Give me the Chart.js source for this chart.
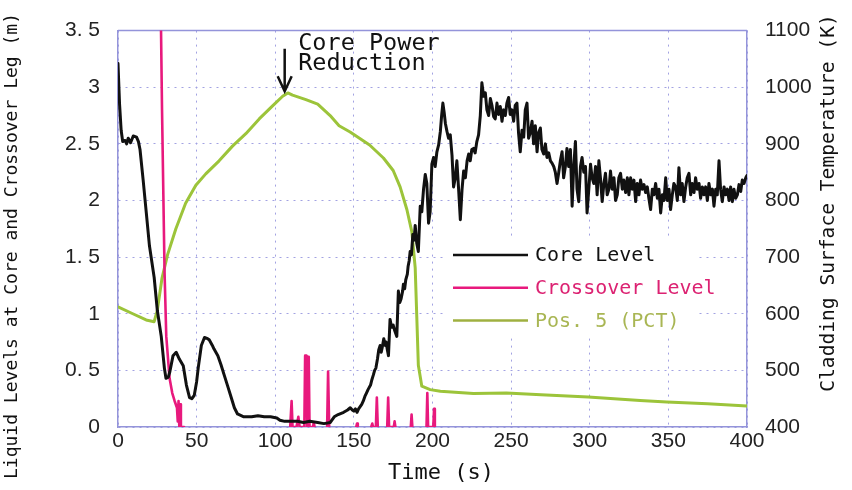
<!DOCTYPE html>
<html><head><meta charset="utf-8">
<script src="https://cdn.jsdelivr.net/npm/chart.js@4.4.1/dist/chart.umd.min.js"></script>
<style>html,body{margin:0;padding:0;background:#fff;}#wrap{width:852px;height:490px;position:relative;}</style>
</head><body><div id="wrap"><canvas id="c" width="852" height="490"></canvas></div>
<script>
// ---------- DATA ----------
const seriesNames = ['Core Level', 'Crossover Level', 'Pos. 5 (PCT)'];

const coreTime = [0,1,2,3,4.5,5.5,6.5,8,9.7,11.8,13,14,16,18,20,23,25,27.5,29.5,30.5,32,33,35,37,39,41.5,43.5,45.5,47,48.5,50,51,53,55,57,58,60,61,63.5,65.5,67.5,70,72,74,76,80,85,89,93,97,101,103,106,110,114,118,122,127,131,135,137.5,140,143.5,146,
  147.7,149,150,151,152,153,154,155,156,157,158,159,160.6,161.5,162.4,163.2,164,165,165.8,166.7,167.4,168,169,170,170.5,171.3,172,173,174,175,176,177.3,178.3,179.2,180,181,181.5,182.3,183,184,184.5,185.2,185.8,186.6,187.5,188.3,189,
  190,191,192.2,193.2,194.3,195.4,196.4,197.5,198.5,199.6,200.7,201.7,202.8,203.9,205,205.8,206.6,207.4,208.2,209.2,210.2,211.3,212.4,213.4,214.5,215.5,216.6,217.7,218.8,219.8,220.9,222,223,224,225,226.1,227.1,228.2,
  229.3,230.4,231.4,232.5,233.6,234.6,235.7,236.8,237.8,238.9,239.9,241,242,243.1,244.2,245.2,246.3,247.3,248.4,249.4,250.5,251.6,252.6,253.7,254.7,255.8,256.9,258,259,260.1,261.1,262.2,263.3,264.3,265.4,266.5,267.5,268.6,269.6,270.7,271.8,272.8,273.9,275,276,277.1,278.1,279.2,280.3,281.3,282.4,283.4,284.5,285.5,286.6,287.7,288.8,289.8,290.9,291.9,293,294.1,295.1,296.2,297.3,298.3,299.4,
  300.5,301.5,302.6,303.7,304.7,305.8,306.8,307.9,309,310,311.1,312.2,313.2,314.3,315.4,316.4,317.5,318.5,319.6,320.7,321.7,322.8,323.9,324.9,326,327,328.1,329.2,330.2,331.3,332.3,333.4,334.5,335.5,336.6,337.6,338.7,339.8,340.8,341.9,343,344,345.1,346.2,347.2,348.3,349.3,
  350.4,351.4,352.5,353.5,354.6,355.7,356.7,357.8,358.8,359.9,361,362,363.1,364.2,365.2,366.3,367.3,368.4,369.5,370.5,371.6,372.6,373.7,374.8,375.8,376.9,378,379,380.1,381.1,382.2,383.2,384.3,385.4,386.4,387.5,388.6,389.6,390.7,391.7,392.8,393.9,394.9,396,397,398.1,399.2,400];
const coreLevel = [3.21,2.85,2.62,2.52,2.53,2.5,2.55,2.51,2.57,2.56,2.52,2.45,2.18,1.89,1.6,1.32,1.03,0.8,0.52,0.43,0.44,0.49,0.63,0.66,0.6,0.54,0.37,0.26,0.25,0.28,0.4,0.52,0.72,0.79,0.78,0.77,0.72,0.69,0.63,0.55,0.46,0.35,0.26,0.17,0.115,0.09,0.09,0.1,0.09,0.09,0.08,0.06,0.05,0.05,0.05,0.04,0.05,0.04,0.03,0.04,0.09,0.11,0.13,0.15,
  0.17,0.15,0.14,0.16,0.13,0.16,0.18,0.2,0.23,0.27,0.3,0.33,0.37,0.42,0.46,0.5,0.52,0.6,0.68,0.72,0.66,0.7,0.78,0.72,0.75,0.68,0.63,0.95,0.88,0.9,0.85,0.8,1.2,1.1,1.13,1.2,1.26,1.22,1.3,1.35,1.42,1.47,1.55,1.52,1.7,1.65,1.78,
  1.62,1.55,1.95,1.9,2.1,2.23,2.15,1.8,1.9,2.32,2.38,2.3,2.43,2.49,2.61,2.75,2.86,2.78,2.68,2.61,2.55,2.58,2.4,2.12,2.2,2.35,2.1,1.83,2.1,2.26,2.2,2.35,2.41,2.35,2.45,2.46,2.42,2.52,
  2.58,2.75,3.04,2.92,2.95,2.8,2.75,2.9,2.84,2.74,2.72,2.86,2.76,2.83,2.7,2.8,2.75,2.86,2.91,2.76,2.8,2.7,2.84,2.86,2.6,2.43,2.62,2.56,2.8,2.86,2.55,2.6,2.7,2.5,2.66,2.43,2.6,2.64,2.45,2.41,2.5,2.38,2.42,2.35,2.33,2.3,2.25,2.15,2.25,2.35,2.43,2.2,2.3,2.46,2.3,2.45,1.95,2.3,2.52,2.1,1.99,2.3,2.38,2.25,2.3,1.89,2.1,
  2.32,2.2,2.15,2.3,2.05,2.35,2.2,1.99,2.15,2.24,2.05,2.1,2.26,2.1,2.2,2.0,2.05,2.2,2.24,2.1,2.18,2.07,2.2,2.05,2.2,2.1,2.18,1.99,2.15,2.05,2.18,2.1,2.14,2.07,2.12,2.02,1.92,2.1,2.05,2.15,2.02,2.1,1.89,2.05,2.0,2.2,2.0,
  2.1,1.92,2.05,2.15,2.12,2.0,2.29,2.05,2.15,1.99,2.12,2.2,2.24,2.05,2.15,2.07,2.2,2.1,2.15,2.02,2.12,2.05,2.12,2.0,2.15,2.05,2.1,1.95,2.1,2.05,2.35,2.1,1.99,2.12,2.05,2.1,2.0,2.12,1.99,2.1,2.02,2.05,2.14,2.08,2.18,2.15,2.2,2.22];

const crossTime = [27,28,29.6,30.7,32.8,34.5,36,37.5,38,38.5,39,39.5,40,42,43,
  109.5,110.4,111,113.5,114.7,115.5,118.5,119,119.8,120.3,120.6,121.3,121.8,124,124.5,125,126,
  133,133.6,134.3,135,
  151.5,152,152.5,153,
  161,161.7,162.2,164,164.6,165.2,166,
  171.2,171.8,172.4,175.4,175.9,176.4,177,
  186.2,186.7,187.2,188,
  196.2,196.7,197.2,200.5,201,201.5];
const crossLevel = [3.9,2.8,1.37,0.8,0.43,0.3,0.23,0.17,0.05,0.23,0.0,0.2,0,0,null,
  0,0.23,0,0,0.09,0,0,0.63,0.63,0,0.62,0.62,0,0,0.04,0,null,
  0,0.49,0,null,
  0,0.03,0,null,
  0,0.03,0,0,0.26,0,null,
  0,0.26,0,0,0.05,0,null,
  0,0.11,0,null,
  0,0.30,0,0,0.16,0];

const pctTime = [0,9.4,17.9,23,25,28,31.5,36.8,43,49.5,55.8,64.3,72.8,81.3,89.8,98.3,104.7,108,111,119.5,127,134.9,140.6,147.6,160,168.8,175,179.4,183.7,186.9,189,190,191,193.2,198.5,205,226,247,269,299,332,349,375,400];
const pctTemp = [612,600,589,586,606,663,704,750,795,827,847,870,896,918,944,967,984,990,986,978,970,950,932,921,898,875,853,824,784,744,681,595,509,472,466,463,459,460,457,453,447,444,441,437];

const leftTickLabels = ['0','0. 5','1','1. 5','2','2. 5','3','3. 5'];
const rightTickLabels = ['400','500','600','700','800','900','1000','1100'];
const xTitle = 'Time (s)';
const yTitle = 'Liquid Levels at Core and Crossover Leg (m)';
const y1Title = 'Cladding Surface Temperature (K)';
const noteLines = ['Core Power', 'Reduction'];
const noteTime = 106;

// ---------- helpers ----------
const zip = (xs, ys) => xs.map((x, i) => ({x: x, y: ys[i]}));
const COLORS = {core: '#111111', cross: '#e8197d', pct: '#9cc43a'};
const TEXTCOL = ['#111111', '#dc2272', '#a9b654'];
const MONO = '"DejaVu Sans Mono", "Liberation Mono", monospace';
const SANS = '"Liberation Sans", Arial, sans-serif';

const framePlugin = {
  id: 'frame',
  beforeDatasetsDraw(chart) {
    const {ctx, chartArea: a} = chart;
    ctx.save();
    ctx.strokeStyle = '#9494da';
    ctx.lineWidth = 1.5;
    ctx.beginPath();
    ctx.moveTo(a.left, a.top); ctx.lineTo(a.right, a.top);
    ctx.stroke();
    ctx.fillStyle = '#ffffff';
    ctx.fillRect(446, 237, 250, 97);
    ctx.restore();
  }
};

const overlayPlugin = {
  id: 'overlay',
  afterDraw(chart) {
    const {ctx} = chart;
    const xs = chart.scales.x, ys = chart.scales.y;
    ctx.save();
    ctx.fillStyle = '#111';
    ctx.textAlign = 'center';
    ctx.textBaseline = 'middle';
    ctx.font = '22px ' + MONO;
    ctx.fillText(xTitle, 441, 473);
    ctx.save();
    ctx.translate(12, 246); ctx.rotate(-Math.PI / 2);
    ctx.font = '18px ' + MONO;
    ctx.fillText(yTitle, 0, 0);
    ctx.restore();
    ctx.save();
    ctx.translate(829, 203); ctx.rotate(-Math.PI / 2);
    ctx.font = '19.6px ' + MONO;
    ctx.fillText(y1Title, 0, 0);
    ctx.restore();

    const ax = xs.getPixelForValue(noteTime);
    const yTop = ys.getPixelForValue(3.34);
    const yTip = ys.getPixelForValue(2.965);
    ctx.strokeStyle = '#111';
    ctx.lineWidth = 2.5;
    ctx.beginPath();
    ctx.moveTo(ax, yTop); ctx.lineTo(ax, yTip);
    ctx.moveTo(ax - 7, yTip - 15); ctx.lineTo(ax, yTip); ctx.lineTo(ax + 7, yTip - 15);
    ctx.stroke();
    ctx.font = '23.5px ' + MONO;
    ctx.textAlign = 'left';
    ctx.textBaseline = 'alphabetic';
    const tx = xs.getPixelForValue(114.6);
    ctx.fillText(noteLines[0], tx, 50);
    ctx.fillText(noteLines[1], tx, 70);

    ctx.font = '20px ' + MONO;
    ctx.textBaseline = 'middle';
    [0, 1, 2].forEach((di, i) => {
      const ds = chart.data.datasets[di];
      const y = 255 + i * 32.7;
      ctx.strokeStyle = i === 2 ? '#9fb040' : ds.borderColor;
      ctx.lineWidth = 2.5;
      ctx.beginPath(); ctx.moveTo(453, y); ctx.lineTo(528, y); ctx.stroke();
      ctx.fillStyle = TEXTCOL[i];
      ctx.fillText(ds.label, 535, y + 1);
    });
    ctx.restore();
  }
};

const gridCol = '#a2a2e2';
const borderCol = '#9494da';

new Chart(document.getElementById('c'), {
  type: 'line',
  data: {
    datasets: [
      {label: seriesNames[0], data: zip(coreTime, coreLevel), yAxisID: 'y', borderColor: COLORS.core, borderWidth: 3, order: 1},
      {label: seriesNames[1], data: zip(crossTime, crossLevel), yAxisID: 'y', borderColor: COLORS.cross, borderWidth: 2.6, order: 2, spanGaps: false},
      {label: seriesNames[2], data: zip(pctTime, pctTemp), yAxisID: 'y1', borderColor: COLORS.pct, borderWidth: 3, order: 3}
    ]
  },
  options: {
    responsive: false,
    animation: false,
    devicePixelRatio: 1,
    elements: {point: {radius: 0}, line: {tension: 0, borderJoinStyle: 'round', borderCapStyle: 'round'}},
    layout: {padding: {top: 19, left: 0, right: 0, bottom: 0}},
    plugins: {legend: {display: false}, tooltip: {enabled: false}},
    scales: {
      x: {
        type: 'linear', min: 0, max: 400,
        ticks: {stepSize: 50, color: '#222', font: {family: SANS, size: 21}, padding: 2, maxRotation: 0},
        grid: {color: gridCol, lineWidth: 1, drawTicks: false},
        border: {display: true, color: borderCol, width: 1.5, dash: [2, 5]},
        afterFit(s) { s.height = 63; }
      },
      y: {
        position: 'left', min: 0, max: 3.5,
        ticks: {stepSize: 0.5, color: '#222', font: {family: SANS, size: 21}, padding: 18,
          callback: (v) => leftTickLabels[Math.round(v / 0.5)]},
        grid: {color: gridCol, lineWidth: 1, drawTicks: false},
        border: {display: true, color: borderCol, width: 1.5, dash: [2, 5]},
        afterFit(s) { s.width = 118; }
      },
      y1: {
        position: 'right', min: 400, max: 1100,
        ticks: {stepSize: 100, color: '#222', font: {family: SANS, size: 21}, padding: 18,
          callback: (v) => rightTickLabels[Math.round((v - 400) / 100)]},
        grid: {drawOnChartArea: false, drawTicks: false},
        border: {display: true, color: borderCol, width: 1.5},
        afterFit(s) { s.width = 105; }
      }
    }
  },
  plugins: [framePlugin, overlayPlugin]
});
</script>
</body></html>
